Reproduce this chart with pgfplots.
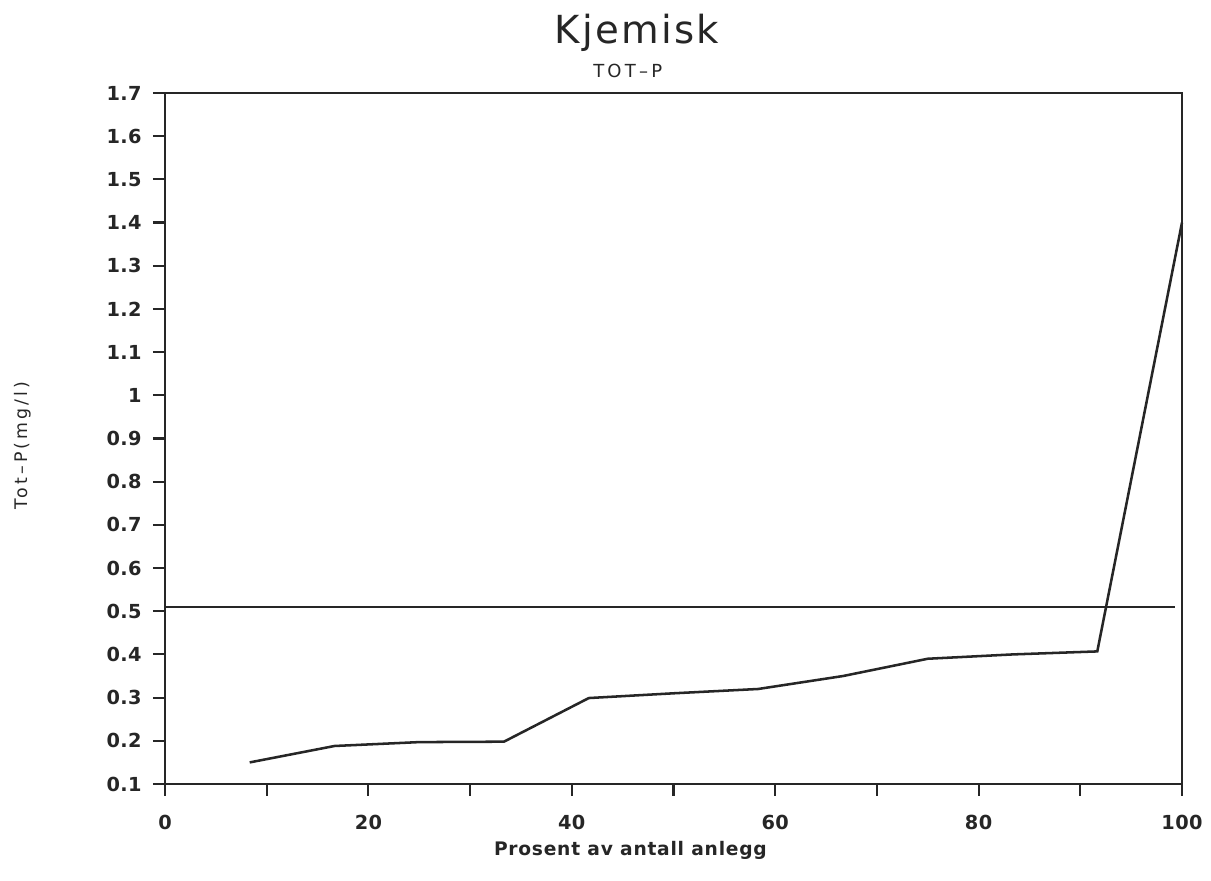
\documentclass[border=0pt]{standalone}
\usepackage{pgfplots}
\pgfplotsset{compat=1.18}
\usepackage{fontspec}
\setmainfont{DejaVu Sans}
\begin{document}
\begin{tikzpicture}[x=0.75pt,y=0.75pt]
\path[use as bounding box] (-165,-97) rectangle (1046,784);
\begin{axis}[
  at={(0,0)}, anchor=south west,
  scale only axis,
  width=762.75pt, height=518.25pt,
  xmin=0, xmax=100, ymin=0.1, ymax=1.7,
  axis line style={line width=1.9pt, black!85},
  tick style={line width=1.6pt, black!85},
  tick align=outside,
  tick pos=left,
  major tick length=9pt,
  minor tick length=9pt,
  xtick={0,20,...,100},
  minor xtick={10,30,...,90},
  ytick={0.1,0.2,...,1.71},
  /pgf/number format/assume math mode=true,
  yticklabel style={/pgf/number format/fixed, /pgf/number format/precision=1},
  ticklabel style={font=\fontsize{14.5}{17}\selectfont\bfseries\addfontfeatures{LetterSpace=2}, text=black!85},
  xticklabel style={yshift=-11pt},
  yticklabel style={xshift=-5pt},
  xlabel={\textbf{Prosent av antall anlegg}},
  xlabel style={font=\fontsize{14}{16}\selectfont\addfontfeatures{LetterSpace=4}, text=black!85, at={(axis description cs:0.458,0)}, anchor=center, yshift=-49.5pt},
  ylabel={Tot--P(mg/l)},
  ylabel style={font=\fontsize{13}{15}\selectfont\addfontfeatures{LetterSpace=18}, text=black!85, at={(axis description cs:-0.1403,0.49)}, anchor=center},
  clip=false,
]
\addplot[line width=1.9pt, black!85] coordinates {
 (8.33,0.15) (16.67,0.188) (25,0.197) (33.33,0.198) (41.67,0.299)
 (50,0.31) (58.33,0.32) (66.67,0.35) (75,0.39) (83.33,0.40)
 (91.67,0.407) (100,1.40)
};
\addplot[line width=1.5pt, black!85] coordinates {(0,0.51) (99.3,0.51)};
\node[font=\fontsize{29}{32}\selectfont\addfontfeatures{LetterSpace=6}, text=black!85] at (axis description cs:0.464,1.087) {Kjemisk};
\node[font=\fontsize{13.5}{15}\selectfont\addfontfeatures{LetterSpace=18}, text=black!85] at (axis description cs:0.455,1.032) {TOT--P};
\end{axis}
\end{tikzpicture}
\end{document}
